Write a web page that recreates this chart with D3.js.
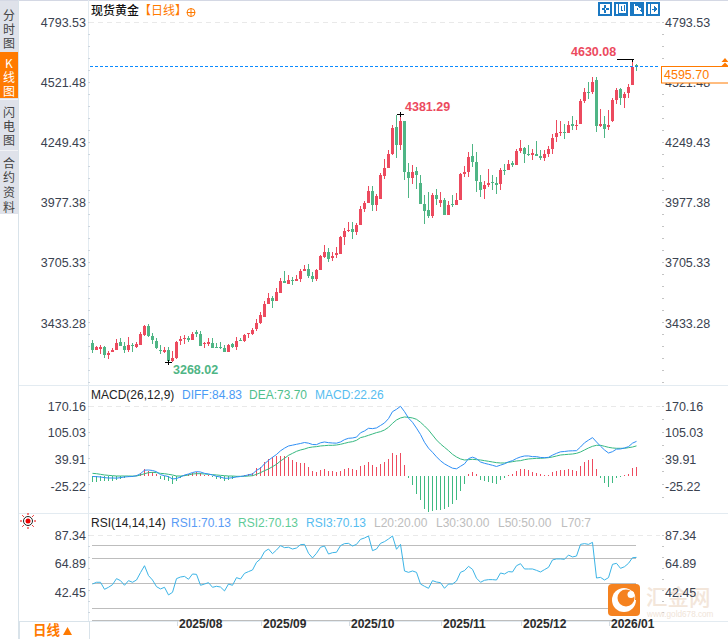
<!DOCTYPE html>
<html><head><meta charset="utf-8">
<script src="https://cdn.jsdelivr.net/npm/d3@7/dist/d3.min.js"></script>
<style>
html,body{margin:0;padding:0;background:#fff;overflow:hidden}
svg{display:block}
text{font-family:"Liberation Sans",Arial,sans-serif}
.cjk{font-family:"Noto Sans CJK SC",sans-serif}
</style></head><body><div id="c"></div>
<script>
const opens=[3355,3322,3325,3335.5,3299.5,3313,3322,3359.5,3341.5,3322,
3346,3335.5,3344.5,3391,3430,3386.5,3364,3322,3313,3322,
3274,3284.5,3364,3373,3377.5,3367,3403,3395.5,3347.5,3349,
3353.5,3334,3334,3331,3314.5,3349,3335.5,3367,3364,3392.5,
3394,3416.5,3443.5,3472,3528,3555,3541.5,3577.5,3631.5,3618,
3636,3631.5,3640.5,3676.5,3685.5,3654,3640.5,3681,3739.5,3762,
3735,3748.5,3753,3829.5,3856.5,3865.5,3852,3883.5,3955.5,3982.5,
4036.5,3973.5,4000.5,4104,4140,4203,4324.5,4243.5,4351.5,4122,
4095,4126.5,4072.5,3978,3951,3924,4018.5,3982.5,3996,3928.5,
3978,3973.5,3996,4112.6,4121.6,4193.6,4166.6,4076.6,4045,4063,
4076.6,4072,4067.6,4130.6,4130.6,4162,4153,4216,4229.6,4202.6,
4198,4202.6,4193.6,4184.6,4202.6,4225,4279,4297,4301.6,4297,
4337.6,4328.6,4337.6,4441,4481.6,4481.6,4535.6,4328.6,4337.6,4324,
4351,4445.6,4495,4454.6,4477,4513,4601];
const highs=[3367,3341.5,3344.5,3340,3317.5,3331,3371.5,3376,3359.5,3380.5,
3355,3359.5,3403,3434.5,3439,3397,3376,3343,3334,3337,
3317.5,3361,3386.5,3388,3385,3401.5,3412,3409,3359.5,3376,
3374.5,3355,3358,3343,3349,3355,3379,3374.5,3394,3400,
3421,3463,3493,3542.5,3577.5,3564,3600,3645,3676.5,3658.5,
3648,3658.5,3685.5,3703.5,3708,3672,3685.5,3748.5,3793.5,3780,
3762,3784.5,3834,3870,3897,3897,3892.5,3969,3991.5,4059,
4059,4023,4117.5,4180.5,4221,4333.5,4378.5,4381.29,4351.5,4162.5,
4153.5,4144.5,4108.5,4018.5,4032,4027.5,4045.5,4032,4005,3991.5,
4018.5,4027.5,4117,4148.6,4211.6,4247.6,4211.6,4108,4081,4135,
4108,4099,4139.6,4157.6,4175.6,4171,4225,4265.6,4234,4243,
4225,4261,4220.6,4220.6,4238.6,4292.6,4355.6,4351,4337.6,4351,
4373.6,4355.6,4450,4499.6,4526.6,4549,4549,4405,4373.6,4400.6,
4454.6,4499.6,4499.6,4481.6,4517.6,4630.08,4607.6];
const lows=[3310,3322,3302.5,3286,3281.5,3313,3322,3340,3310,3311.5,
3313,3332.5,3344.5,3385,3382,3349,3326.5,3305.5,3310,3268.02,
3269.5,3281.5,3344.5,3350.5,3359.5,3367,3382,3340,3329.5,3340,
3331,3329.5,3325,3311.5,3311.5,3329.5,3322,3364,3359.5,3377.5,
3389.5,3409,3439,3472,3528,3510,3541.5,3577.5,3622.5,3618,
3613.5,3631.5,3627,3676.5,3645,3627,3631.5,3681,3735,3717,
3721.5,3735,3753,3793.5,3852,3820.5,3838.5,3883.5,3942,3982.5,
3946.5,3946.5,4000.5,4090.5,4140,4198.5,4185,4221,4086,4005,
4068,4045.5,3978,3888,3915,3915,3973.5,3964.5,3928.5,3928.5,
3964.5,3973.5,3995.6,4099,4099,4144,4031.6,4009,4000,4054,
4040.6,4022.6,4040.6,4108,4130.6,4144,4153,4207,4162,4193.6,
4175.6,4193.6,4175.6,4171,4189,4202.6,4256.6,4283.6,4270,4297,
4310.6,4310.6,4337.6,4432,4450,4472.6,4301.6,4324,4274.6,4310.6,
4346.6,4427.6,4423,4409.6,4454.6,4513,4576];
const closes=[3322,3337,3337,3299.5,3310,3323.5,3355,3340,3322,3344.5,
3341.5,3349,3395.5,3430,3385,3367,3329.5,3317.5,3322,3274,
3284.5,3358,3373,3377.5,3367,3395.5,3395.5,3341.5,3352,3356.5,
3332.5,3331,3329.5,3314.5,3346,3334,3364,3364,3389.5,3397,
3412,3443.5,3479.5,3529,3555,3541.5,3582,3631.5,3622.5,3636,
3631.5,3640.5,3676.5,3685.5,3654,3640.5,3681,3744,3762,3730.5,
3744,3757.5,3829.5,3856.5,3861,3852,3883.5,3955.5,3982.5,4036.5,
3973.5,4014,4108.5,4140,4203,4320,4243.5,4351.5,4122,4095,
4122,4108.5,3978,3946.5,3924,4018.5,4000.5,3996,3928.5,3973.5,
3973.5,3996,4112.6,4121.6,4189.1,4166.6,4081,4040.6,4063,4072,
4072,4063,4130.6,4126,4157.6,4153,4216,4229.6,4202.6,4198,
4207,4193.6,4184.6,4202.6,4225,4274.6,4297,4301.6,4297,4333,
4328.6,4333,4441,4481.6,4477,4526.6,4328.6,4337.6,4315,4333,
4445.6,4490.6,4454.6,4472.6,4504,4594,4595.70];
const diff=[-1.2,-1.6,-2.4,-4,-4.9,-4.9,-5.3,-4,-2.4,-1.6,
-1.1,.8,5.7,14.2,14.7,13.5,10.6,3.3,.8,-1.6,
-7.3,-6.1,-2.4,2.4,4.9,8.5,10.6,9.8,6.5,4.9,
2.5,-.8,-2.5,-5.7,-5.3,-4.1,-2.4,-1.2,.4,2.9,
4.9,13.9,19.2,29.9,38.4,45.8,52.7,61.7,68.2,73.5,
75.5,77.6,79.6,82,80.4,77.1,76.8,81.3,83.3,81.6,
80.8,80.4,83.3,89,92.3,93.1,95.2,105.8,110.3,116.8,
116,117.7,123.7,129.9,140.5,157.6,163.3,170.7,157.6,141.7,
131.5,117.2,101.7,82.5,68.2,58,47,37.2,29.8,24.2,
19.2,17.6,23.8,29.8,42.5,46.1,42.5,34.3,31.1,28.7,
26.2,23.3,26.6,29.9,34.7,37.6,42.9,46.6,49,49.1,
47.4,47.4,45.4,44.9,45.7,51.1,55.5,59.2,60,61.3,
61.7,62,71,81.3,87.8,94,83.3,73,63.7,56.3,
59.6,65.8,66.2,68.6,71.9,80.4,84.83];
const dea=[6.5,5.7,4.1,2.5,1.6,.8,0,0,0,0,
-.3,0,2.5,5.7,8.2,9,8.2,6.5,5.7,4.1,
2.5,0,0,.8,2.5,4.9,5.7,5.7,4.9,4.1,
3.3,2.5,1.6,.8,0,0,-.8,-.8,-.8,0,
.8,4.1,8.2,13.1,17.2,22.9,28.6,36.8,43.3,50.6,
55.5,60.4,63.7,66.1,69.4,71,71.9,73.5,74.3,75.1,
75.1,75.9,77.6,80,82.5,84.1,87.4,93.9,96.4,99.6,
102.9,106.2,108.6,112.7,119.2,129,137.2,142.1,144.5,143.7,
142.1,138.8,131.5,122.5,112.7,100.4,88.2,78.4,70.2,62.1,
53.1,46.6,41.7,39.2,40,40.8,40,39.2,37.6,36,
34.3,32.7,31.9,31.9,33.5,35.1,36.8,37.6,40,41.7,
42.5,43.3,43.3,44.1,44.9,46.6,49,51.4,52.3,53.1,
53.9,55.5,58.8,63.7,68.6,72.7,75.1,75.1,72.7,70.2,
68.6,67.8,67.8,67.8,69.4,71,73.7];
const macdBars=[-15.5,-14.7,-13,-13,-13,-11.4,-10.6,-8,-4.9,-3.3,
-1.6,1.6,6.5,17.1,13,9,4.9,-6.5,-9.8,-11.4,
-19.6,-12.2,-4.9,3.3,4.9,7.3,9.8,8.2,3.3,1.6,
-1.6,-6.5,-8.2,-13,-10.6,-8.2,-3.3,-.8,2.4,5.7,
8.2,19.6,22,33.5,42.5,45.7,48.2,49.8,49.8,45.7,
40,34.3,31.8,31.8,22,12.2,9.8,15.5,18,13,
11.4,8.9,11.4,18,19.6,18,15.5,23.7,27.8,34.3,
26.1,22.9,30.2,34.3,42.5,57.1,52.2,57.1,26.1,-4.1,
-21.2,-43.3,-59.6,-80,-89,-84.9,-82.5,-82.5,-80.8,-75.9,
-67.8,-58,-35.9,-18.8,4.9,10.6,4.9,-9.8,-13,-14.7,
-16.3,-18.8,-10.6,-4.1,2.4,4.9,12.2,18,18,14.7,
9.8,8.2,4.1,1.6,1.6,9,13,15.5,15.5,16.3,
15.5,13,24.5,35.1,38.4,42.5,16.3,-4.1,-18,-27.8,
-18,-4.1,-3.3,1.6,4.9,18.8,22.26];
const rsi=[48.9,50.3,50.3,44.7,46.3,48.4,53.2,51.6,47.9,51.6,
50.3,52.1,58,63.5,55.6,52.1,46.8,45,46.3,40.2,
42.3,53.2,54.5,55,52.7,56.9,56.6,47.9,48.9,50,
46.3,47.1,46.5,43.4,48.9,47.9,54,52.9,57.4,58.8,
60.1,66.2,68.9,74.7,76.8,73.1,76,79.5,77.9,78.2,
76.8,77.6,80.3,80.5,73.4,69.7,73.4,78.2,79.2,72.8,
73.9,74.2,79.5,81.1,81.3,79.2,80.5,84.5,85.6,87.2,
75.5,76.8,81.3,82.7,84.8,87.2,76.6,80.5,59.3,58.2,
59.3,58.2,48.9,47.1,45.5,51.6,50.5,50,45.5,48.9,
48.9,51.3,58.2,59.6,63,60.6,53.5,50.3,51.9,52.4,
52.4,52.1,57.7,56.9,58.8,58.5,63.5,65.1,60.9,60.9,
60.9,59.8,58.5,60.4,62.2,68.1,68.9,68.9,68.6,72,
70.5,71.2,80.5,81.1,80.5,82.1,53.7,54.2,52.1,54,
64.6,65.4,61.4,62.7,65.4,69.9,70.13];
const priceTicks=[4793.53,4521.48,4249.43,3977.38,3705.33,3433.28];
const macdTicks=[170.16,105.03,39.91,-25.22];
const rsiTicks=[87.34,64.89,42.45];
const rsiLevels=[80,70,50,30,20];
const monthIndex=[21,42,64,87,107,129];
const monthLabels=["2025/08","2025/09","2025/10","2025/11","2025/12","2026/01"];
const tabs=[["分","时","图"],["K","线","图"],["闪","电","图"],["合","约","资","料"]];

const RED="#ec4a5e",GREEN="#4fb585",ORANGE="#ff7a00",LINE="#e3ebf1",DARK="#3a4250";
const svg=d3.select("#c").append("svg").attr("width",728).attr("height",639);
const idx=d3.range(opens.length);
const x=d3.scaleLinear().domain([0,136]).range([92.5,636.5]);
const y=d3.scaleLinear().domain([4630.08,3268.02]).range([59,362]);
const yAxisScale=d3.scaleLinear().domain([4793.53,3433.28]).range([22,323]);
const ym=d3.scaleLinear().domain([0,170.16]).range([476,406.5]);
const ymAxis=d3.scaleLinear().domain([170.16,-25.22]).range([406,486]);
const yr=d3.scaleLinear().domain([80,20]).range([545,620.3]);
const yrAxis=d3.scaleLinear().domain([87.34,42.45]).range([535,592]);

// frame
const fr=svg.append("g").attr("shape-rendering","crispEdges");
fr.append("rect").attr("x",0).attr("y",0).attr("width",18).attr("height",214).attr("fill","#dfe2ea");
fr.append("rect").attr("x",0).attr("y",0).attr("width",728).attr("height",1).attr("fill","#d4d8e4");
fr.append("rect").attr("x",18).attr("y",0).attr("width",1).attr("height",639).attr("fill","#d9e3ea");
fr.append("rect").attr("x",88).attr("y",0).attr("width",1).attr("height",639).attr("fill",LINE);
fr.append("rect").attr("x",19).attr("y",385).attr("width",709).attr("height",1).attr("fill",LINE);
fr.append("rect").attr("x",19).attr("y",513).attr("width",709).attr("height",1).attr("fill",LINE);
fr.append("rect").attr("x",19).attr("y",621).attr("width",709).attr("height",1).attr("fill",LINE);
fr.append("rect").attr("x",19).attr("y",621).attr("width",70).attr("height",18).attr("fill","#fff").attr("stroke","#d9e3ea");
fr.append("rect").attr("x",0).attr("y",99).attr("width",18).attr("height",1).attr("fill","#f2f3f6");
fr.append("rect").attr("x",0).attr("y",150).attr("width",18).attr("height",1).attr("fill","#f2f3f6");

// tabs: one text per tab, characters stacked with tspans
const tabFirst=[19.5,67.5,116.5,167.5];
tabs.forEach((t,k)=>{
  if(k===1)fr.append("rect").attr("x",0).attr("y",52).attr("width",18).attr("height",46).attr("fill",ORANGE);
  const tx=svg.append("text").attr("class","cjk").attr("y",tabFirst[k]).attr("text-anchor","middle").attr("font-size",12).attr("fill",k===1?"#fff":"#444");
  t.forEach((ch,j)=>tx.append("tspan").attr("x",9).attr("dy",j?(k===3?14.7:14):0).text(ch));
});

// watermark lettering sits under the axis labels
const wm0=svg.append("g");
wm0.append("text").attr("class","cjk").attr("x",646).attr("y",605).attr("font-size",21.5).attr("font-weight",500).attr("fill","#f3e6da").text("汇金网");
wm0.append("text").attr("x",647).attr("y",617).attr("font-size",8.2).attr("fill","#f0e4d8").text("www.gold678.com");

// axis helper
function axes(scale,vals,dots){
  const fmt=d=>d.toFixed(2);
  const l=svg.append("g").attr("transform","translate(87,0)").call(d3.axisLeft(scale).tickValues(vals).tickFormat(fmt).tickSize(0).tickPadding(1));
  const r=svg.append("g").attr("transform","translate(664,0)").call(d3.axisRight(scale).tickValues(vals).tickFormat(fmt).tickSize(0).tickPadding(1));
  [l,r].forEach(g=>{g.select(".domain").remove();g.selectAll("text").attr("font-size",12.5).attr("fill",DARK).attr("font-family","'Liberation Sans',Arial,sans-serif");});
  dots.forEach(v=>{
    fr.append("rect").attr("x",88).attr("y",v).attr("width",2).attr("height",1).attr("fill","#cdd6de");
    fr.append("rect").attr("x",662).attr("y",v).attr("width",2).attr("height",1).attr("fill","#c4c4c4");
  });
}
axes(yAxisScale,priceTicks,d3.range(22,384,12));
axes(ymAxis,macdTicks,d3.range(406,510,13));
axes(yrAxis,rsiTicks,d3.range(535,620,11));

// dashed top guides
[[22],[406],[535]].forEach(([v])=>svg.append("line").attr("x1",89).attr("x2",660).attr("y1",v+.5).attr("y2",v+.5)
  .attr("stroke","#e9e9e9").attr("stroke-dasharray","5 4"));

// candles
const cg=svg.append("g").attr("shape-rendering","crispEdges");
const col=i=>closes[i]>=opens[i]?RED:GREEN;
cg.selectAll(".w").data(idx).join("rect").attr("x",i=>x(i)-.5).attr("width",1)
  .attr("y",i=>Math.round(y(highs[i]))).attr("height",i=>Math.max(1,Math.round(y(lows[i]))-Math.round(y(highs[i]))))
  .attr("fill",col);
cg.selectAll(".b").data(idx).join("rect").attr("x",i=>x(i)-1.5).attr("width",3)
  .attr("y",i=>Math.round(y(Math.max(opens[i],closes[i])))).attr("height",i=>Math.max(1,Math.round(y(Math.min(opens[i],closes[i])))-Math.round(y(Math.max(opens[i],closes[i])))))
  .attr("fill",col);

// last price line
svg.append("line").attr("x1",90).attr("x2",660).attr("y1",66.5).attr("y2",66.5).attr("stroke","#0a8aff").attr("stroke-width",1).attr("stroke-dasharray","3 2");
svg.append("rect").attr("x",661.5).attr("y",66.5).attr("width",67).attr("height",16.5).attr("fill","#fff").attr("stroke",ORANGE);
svg.append("text").attr("x",664).attr("y",79).attr("font-size",12.5).attr("fill",ORANGE).text("4595.70");
svg.append("path").attr("d","M725 58l3.5 4h-7zM725 62.5l3.5 3.5h-7z").attr("fill",ORANGE);

// extremes
const hiI=135,hi2=77,loI=19;
svg.append("text").attr("x",571).attr("y",56).attr("font-size",12.5).attr("font-weight","bold").attr("fill",RED).text(highs[hiI].toFixed(2));
svg.append("text").attr("x",405).attr("y",111).attr("font-size",12.5).attr("font-weight","bold").attr("fill",RED).text(highs[hi2].toFixed(2));
svg.append("text").attr("x",173).attr("y",374).attr("font-size",12.5).attr("font-weight","bold").attr("fill",GREEN).text(lows[loI].toFixed(2));
const mk=svg.append("g").attr("shape-rendering","crispEdges").attr("fill","#000");
mk.append("rect").attr("x",617).attr("y",y(highs[hiI])).attr("width",17).attr("height",1);
mk.append("rect").attr("x",x(hiI)-.5).attr("y",y(highs[hiI])).attr("width",1).attr("height",3);
mk.append("rect").attr("x",x(hi2)-3.5).attr("y",Math.round(y(highs[hi2]))).attr("width",7).attr("height",1);
mk.append("rect").attr("x",x(hi2)-.5).attr("y",Math.round(y(highs[hi2]))-2).attr("width",1).attr("height",5);
mk.append("rect").attr("x",x(loI)-3.5).attr("y",Math.round(y(lows[loI]))).attr("width",7).attr("height",1);
mk.append("rect").attr("x",x(loI)-.5).attr("y",Math.round(y(lows[loI]))-2).attr("width",1).attr("height",5);

// title
svg.append("text").attr("class","cjk").attr("x",91).attr("y",15).attr("font-size",12).attr("fill","#111").attr("font-weight",500).text("现货黄金");
svg.append("text").attr("class","cjk").attr("x",139).attr("y",15).attr("font-size",12).attr("fill",ORANGE).text("【日线】");
svg.append("circle").attr("cx",191).attr("cy",12.5).attr("r",4).attr("fill","none").attr("stroke",ORANGE);
svg.append("path").attr("d","M187 12.5h8M191 8.5v8").attr("stroke",ORANGE).attr("fill","none");

// toolbar
const ti=svg.append("g").attr("shape-rendering","crispEdges");
[598,614,630,646].forEach((bx,k)=>{
  ti.append("rect").attr("x",bx+1).attr("y",3).attr("width",12).attr("height",12).attr("fill",k===2?"#1a78c2":"#fff").attr("stroke","#1a78c2").attr("stroke-width",2);
  const c=k===2?"#fff":"#1a78c2";
  if(k===0)ti.append("path").attr("d",`M${bx+7} 5v3M${bx+7} 10v3M${bx+3.5} 9h3M${bx+8} 9h3`).attr("stroke",c).attr("stroke-width",2);
  if(k===1)ti.append("path").attr("d",`M${bx+4} 4v9h8M${bx+7} 6v4h2M${bx+10} 5v6`).attr("stroke",c).attr("fill","none");
  if(k===2)ti.append("path").attr("d",`M${bx+4} 4v9h8M${bx+6} 6l5 3-5 2z`).attr("stroke",c).attr("fill",c);
  if(k===3)ti.append("path").attr("d",`M${bx+4} 4v10M${bx+6} 9h3M${bx+8} 6l3 3-3 3z`).attr("stroke",c).attr("fill",c);
});

// MACD
function legend(items,yy){items.forEach(([tx,xx,c])=>svg.append("text").attr("x",xx).attr("y",yy).attr("font-size",12).attr("fill",c).text(tx));}
legend([["MACD(26,12,9)",91,"#222"],["DIFF:84.83",182,"#4a9bf5"],["DEA:73.70",249,"#4fc08d"],["MACD:22.26",315,"#56bdf0"]],399);
const mb=svg.append("g").attr("shape-rendering","crispEdges");
mb.selectAll("rect").data(idx).join("rect").attr("x",i=>x(i)-.5).attr("width",1)
  .attr("y",i=>macdBars[i]>=0?ym(macdBars[i]):ym(0)).attr("height",i=>Math.abs(ym(macdBars[i])-ym(0)))
  .attr("fill",i=>macdBars[i]>=0?"#ee4b5f":"#3fba82");
const ml=a=>d3.line().x((d,i)=>x(i)).y(d=>ym(d))(a);
svg.append("path").attr("d",ml(dea)).attr("fill","none").attr("stroke","#37b981");
svg.append("path").attr("d",ml(diff)).attr("fill","none").attr("stroke","#2f8ff5");

// RSI
legend([["RSI(14,14,14)",91,"#222"],["RSI1:70.13",171,"#5a9cf5"],["RSI2:70.13",238,"#5fcb98"],["RSI3:70.13",306,"#56bdf0"],
["L20:20.00",374,"#bdbdbd"],["L30:30.00",436,"#bdbdbd"],["L50:50.00",498,"#bdbdbd"],["L70:7",561,"#bdbdbd"]],527);
const lv=svg.append("g").attr("shape-rendering","crispEdges");
rsiLevels.forEach(v=>lv.append("rect").attr("x",92).attr("width",544).attr("y",Math.round(yr(v))).attr("height",1).attr("fill","#bdbdbd"));
svg.append("path").attr("d",d3.line().x((d,i)=>x(i)).y(d=>yr(d))(rsi)).attr("fill","none").attr("stroke","#3bb4e6");

// sun icon
const sun=svg.append("g").attr("transform","translate(28,521)");
sun.append("circle").attr("r",2.5).attr("fill","#e00");
sun.append("circle").attr("r",4.5).attr("fill","none").attr("stroke","#222");
d3.range(8).forEach(k=>{const a=k*Math.PI/4;sun.append("line").attr("x1",6*Math.cos(a)).attr("y1",6*Math.sin(a)).attr("x2",8*Math.cos(a)).attr("y2",8*Math.sin(a)).attr("stroke","#e00");});

// time axis
const xa=svg.append("g").attr("transform","translate(0,621)").call(d3.axisBottom(x).tickValues(monthIndex).tickFormat((d,i)=>monthLabels[i]).tickSize(5).tickPadding(0));
xa.select(".domain").remove();
xa.selectAll("line").attr("stroke","#d5dde4").attr("shape-rendering","crispEdges");
xa.selectAll("text").attr("text-anchor","start").attr("dx",2).attr("dy","0.2em").attr("font-size",12).attr("font-weight","bold").attr("fill","#2b2b2b").attr("font-family","'Liberation Sans',Arial,sans-serif");

svg.append("text").attr("class","cjk").attr("x",33).attr("y",635).attr("font-size",13.5).attr("font-weight",700).attr("fill",ORANGE).text("日线");
svg.append("path").attr("d","M63 635l4.5-8 4.5 8z").attr("fill",ORANGE);

// watermark badge
const wm=svg.append("g");
wm.append("rect").attr("x",608).attr("y",584).attr("width",32).attr("height",32).attr("rx",4).attr("fill","#f5821f");
wm.append("circle").attr("cx",624).attr("cy",600).attr("r",12).attr("fill","#fff");
wm.append("circle").attr("cx",626).attr("cy",598).attr("r",8.5).attr("fill","#f5821f");
wm.append("circle").attr("cx",631).attr("cy",594.5).attr("r",3.5).attr("fill","#fff");
wm.append("path").attr("d","M636 590a12 12 0 0 1 2 10h-3a10 10 0 0 0-1-8z").attr("fill","#f5821f");
</script></body></html>
